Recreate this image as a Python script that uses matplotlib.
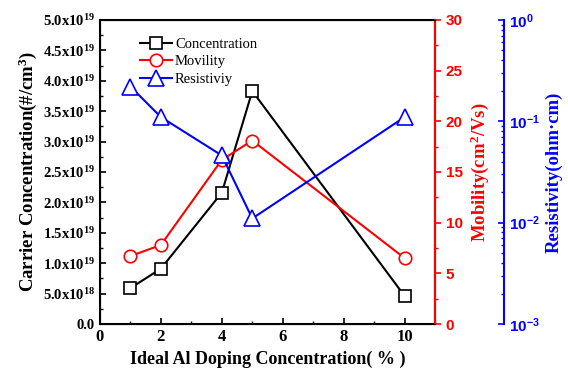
import matplotlib
matplotlib.use("Agg")
import matplotlib.pyplot as plt
from matplotlib.ticker import MultipleLocator, FixedLocator, LogLocator, NullFormatter

plt.rcParams['mathtext.default'] = 'regular'

doping = [1, 2, 4, 5, 10]
concentration = [0.59e19, 0.91e19, 2.16e19, 3.83e19, 0.46e19]
mobility = [6.7, 7.8, 16.2, 18.1, 6.5]
resistivity = [0.22, 0.11, 0.046, 0.011, 0.11]

conc_ticks = [0, 0.5e19, 1.0e19, 1.5e19, 2.0e19, 2.5e19, 3.0e19, 3.5e19, 4.0e19, 4.5e19, 5.0e19]
conc_labels = ['0.0', '5.0x10$^{18}$', '1.0x10$^{19}$', '1.5x10$^{19}$', '2.0x10$^{19}$',
               '2.5x10$^{19}$', '3.0x10$^{19}$', '3.5x10$^{19}$', '4.0x10$^{19}$',
               '4.5x10$^{19}$', '5.0x10$^{19}$']

serif = 'Liberation Serif'
sans = 'Liberation Sans'

fig = plt.figure(figsize=(5.68, 3.83), dpi=100)
ax = fig.add_axes([0.176, 0.154, 0.590, 0.794])

l1, = ax.plot(doping, concentration, color='black', marker='s', markersize=8,
              markerfacecolor='white', markeredgewidth=1.2, linewidth=1.5, label='Concentration')
ax.set_xlim(0, 11)
ax.set_ylim(0, 5.0e19)
ax.set_xticks([0, 2, 4, 6, 8, 10])
ax.xaxis.set_minor_locator(MultipleLocator(1))
ax.yaxis.set_major_locator(FixedLocator(conc_ticks))
ax.set_yticklabels(conc_labels)
ax.yaxis.set_minor_locator(MultipleLocator(0.25e19))
ax.tick_params(axis='both', which='both', direction='in', right=False, top=False)
ax.tick_params(axis='both', which='major', length=4, width=1.2)
ax.tick_params(axis='both', which='minor', length=2, width=1)
for lab in ax.get_xticklabels():
    lab.set_fontfamily(serif); lab.set_fontweight('bold'); lab.set_fontsize(12)
for lab in ax.get_yticklabels():
    lab.set_fontfamily(serif); lab.set_fontweight('bold'); lab.set_fontsize(10.5)
ax.set_xlabel('Ideal Al Doping Concentration( % )', fontfamily=serif, fontweight='bold', fontsize=13)
ax.set_ylabel('Carrier Concentration(#/cm$^3$)', fontfamily=serif, fontweight='bold', fontsize=13.5,
              labelpad=3)
for s in ax.spines.values():
    s.set_linewidth(1.5)

ax2 = ax.twinx()
l2, = ax2.plot(doping, mobility, color='red', marker='o', markersize=9,
               markerfacecolor='white', markeredgewidth=1.2, linewidth=1.5, label='Movility')
ax2.set_ylim(0, 30)
ax2.yaxis.set_major_locator(MultipleLocator(5))
ax2.yaxis.set_minor_locator(MultipleLocator(2.5))
ax2.tick_params(axis='y', which='both', direction='out', colors='red')
ax2.tick_params(axis='y', which='major', length=4, width=1.2)
ax2.tick_params(axis='y', which='minor', length=2, width=1)
for lab in ax2.get_yticklabels():
    lab.set_fontfamily(sans); lab.set_fontweight('bold'); lab.set_fontsize(11)
ax2.spines['right'].set_color('red')
ax2.spines['right'].set_linewidth(1.5)
ax2.set_ylabel('Mobility(cm$^2$/Vs)', color='red', fontfamily=serif, fontweight='bold', fontsize=13.5)

ax3 = ax.twinx()
ax3.spines['right'].set_position(('axes', 1.206))
l3, = ax3.plot(doping, resistivity, color='blue', marker='^', markersize=11,
               markerfacecolor='white', markeredgewidth=1.2, linewidth=1.5, label='Resistiviy')
ax3.set_yscale('log')
ax3.set_ylim(1e-3, 1e0)
ax3.yaxis.set_major_locator(LogLocator(base=10, numticks=10))
ax3.yaxis.set_minor_locator(LogLocator(base=10, subs=range(2, 10), numticks=20))
ax3.yaxis.set_minor_formatter(NullFormatter())
ax3.tick_params(axis='y', which='both', direction='in', colors='blue')
ax3.tick_params(axis='y', which='major', length=4, width=1.2)
ax3.tick_params(axis='y', which='minor', length=2, width=1)
for lab in ax3.get_yticklabels():
    lab.set_fontfamily(sans); lab.set_fontweight('bold'); lab.set_fontsize(11)
ax3.spines['right'].set_color('blue')
ax3.spines['right'].set_linewidth(1.5)
for k in ['top', 'left', 'bottom']:
    ax3.spines[k].set_visible(False)
ax3.set_ylabel('Resistivity(ohm·cm)', color='blue', fontfamily=serif, fontweight='bold', fontsize=13.5)

ax.legend(handles=[l1, l2, l3], loc='upper left', bbox_to_anchor=(0.08, 0.985), frameon=False,
          prop={'family': serif, 'size': 10.5}, handlelength=2.2, labelspacing=0.3, handletextpad=0.2)

fig.savefig('out.png', dpi=100)
